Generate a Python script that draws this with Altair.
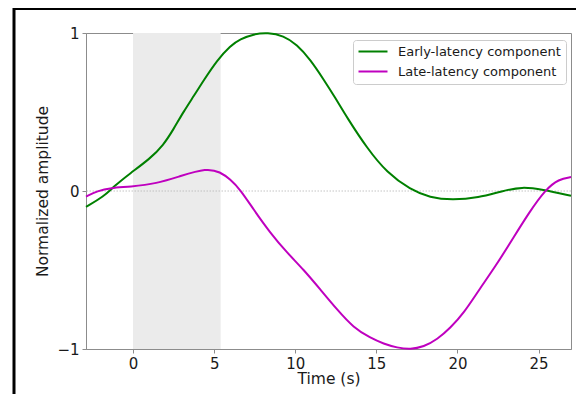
import altair as alt
import pandas as pd

# Early-latency component (time s, normalized amplitude)
early_t = [-2.9, -1.8, -1.17, -0.2, 1.05, 1.87, 2.49, 3.1, 3.77, 4.38, 5.2, 6.0, 6.6, 7.43, 8.3,
           9.28, 10.1, 10.93, 11.75, 12.47, 13.19, 14.43, 15.66, 17.1, 18.3, 19.67, 21.3, 22.76,
           23.99, 25.2, 27.0]
early_y = [-0.1, -0.035, 0.03, 0.11, 0.205, 0.29, 0.39, 0.5, 0.605, 0.705, 0.83, 0.92, 0.962,
           0.993, 1.003, 0.983, 0.927, 0.832, 0.706, 0.59, 0.465, 0.27, 0.115, 0.008, -0.042, -0.058,
           -0.043, 0.0, 0.027, 0.01, -0.03]

# Late-latency component
late_t = [-2.9, -2.2, -1.38, -0.19, 1.46, 2.9, 4.55, 5.37, 6.0, 6.6, 7.43, 8.46, 9.49, 10.51,
          11.54, 12.57, 13.6, 14.63, 15.45, 16.28, 17.1, 17.92, 18.75, 19.57, 20.4, 21.3, 22.35,
          23.38, 24.4, 25.43, 26.25, 27.0]
late_y = [-0.035, 0.0, 0.02, 0.027, 0.047, 0.094, 0.145, 0.121, 0.073, 0.01, -0.117, -0.265, -0.39,
          -0.497, -0.623, -0.75, -0.866, -0.93, -0.967, -0.992, -1.003, -0.986, -0.94, -0.866,
          -0.771, -0.63, -0.476, -0.307, -0.138, 0.01, 0.075, 0.088]

series_names = ["Early-latency component", "Late-latency component"]
series_colors = ["#008000", "#bf00bf"]

stim_start = [0.0]
stim_end = [5.4]

x_ticks = [0, 5, 10, 15, 20, 25]
y_ticks = [-1, 0, 1]
x_domain = [-2.9, 27.0]
y_domain = [-1, 1]

rows = []
for t, y in zip(early_t, early_y):
    rows.append({"t": t, "y": y, "series": series_names[0]})
for t, y in zip(late_t, late_y):
    rows.append({"t": t, "y": y, "series": series_names[1]})
df = pd.DataFrame(rows)

xs = alt.Scale(domain=x_domain, nice=False, zero=False)
ys = alt.Scale(domain=y_domain, nice=False, zero=False)
x_axis = alt.Axis(values=x_ticks, title="Time (s)", labelExpr="format(datum.value, '.0f')")
y_axis = alt.Axis(values=y_ticks, title="Normalized amplitude",
                  labelExpr="format(datum.value, '.0f')")

shade = alt.Chart(pd.DataFrame({"a": stim_start, "b": stim_end})).mark_rect(
    color="#ebebeb"
).encode(
    x=alt.X("a:Q", scale=xs, axis=x_axis),
    x2="b:Q",
)

zero = alt.Chart(pd.DataFrame({"z": [0]})).mark_rule(
    color="#b5b5b5", strokeWidth=0.8, strokeDash=[1.5, 1.5]
).encode(y=alt.Y("z:Q", scale=ys, axis=y_axis))

lines = alt.Chart(df).mark_line(strokeWidth=2, interpolate="basis").encode(
    x=alt.X("t:Q", scale=xs, axis=x_axis),
    y=alt.Y("y:Q", scale=ys, axis=y_axis),
    color=alt.Color("series:N",
                    scale=alt.Scale(domain=series_names, range=series_colors),
                    legend=alt.Legend(title=None, orient="none", legendX=267, legendY=7)),
    detail="series:N",
)

frame = alt.Chart(pd.DataFrame({"k": [0]})).mark_rect(
    fill=None, stroke="black", strokeWidth=3
).encode(
    x=alt.value(-72), x2=alt.value(800), y=alt.value(-24.5), y2=alt.value(800)
)

chart = alt.layer(shade, zero, lines, frame).properties(
    width=485, height=316,
    autosize=alt.AutoSizeParams(type="none"),
    padding={"left": 78, "top": 25, "right": 5, "bottom": 45},
    background="white",
).configure_view(
    stroke="#8c8c8c", strokeWidth=1
).configure_axis(
    grid=False,
    domainColor="#8c8c8c",
    domainWidth=1,
    tickColor="#8c8c8c",
    tickSize=4,
    labelFont="DejaVu Sans",
    labelFontSize=15,
    labelColor="#1a1a1a",
    labelPadding=3,
    titleFont="DejaVu Sans",
    titleFontSize=15.5,
    titleFontWeight="normal",
    titleColor="#1a1a1a",
).configure_axisX(
    titlePadding=0,
    labelFlush=False,
).configure_axisY(
    titlePadding=6,
).configure_legend(
    padding=5,
    fillColor="white",
    strokeColor="#cccccc",
    cornerRadius=3,
    labelFont="DejaVu Sans",
    labelFontSize=13,
    labelColor="#1a1a1a",
    labelLimit=400,
    symbolType="M-1.2,0L4.6,0",
    symbolSize=100,
    symbolStrokeWidth=2,
    labelOffset=27,
    rowPadding=6,
)

chart.save("out.html", embed_options={"renderer": "svg", "actions": False})
